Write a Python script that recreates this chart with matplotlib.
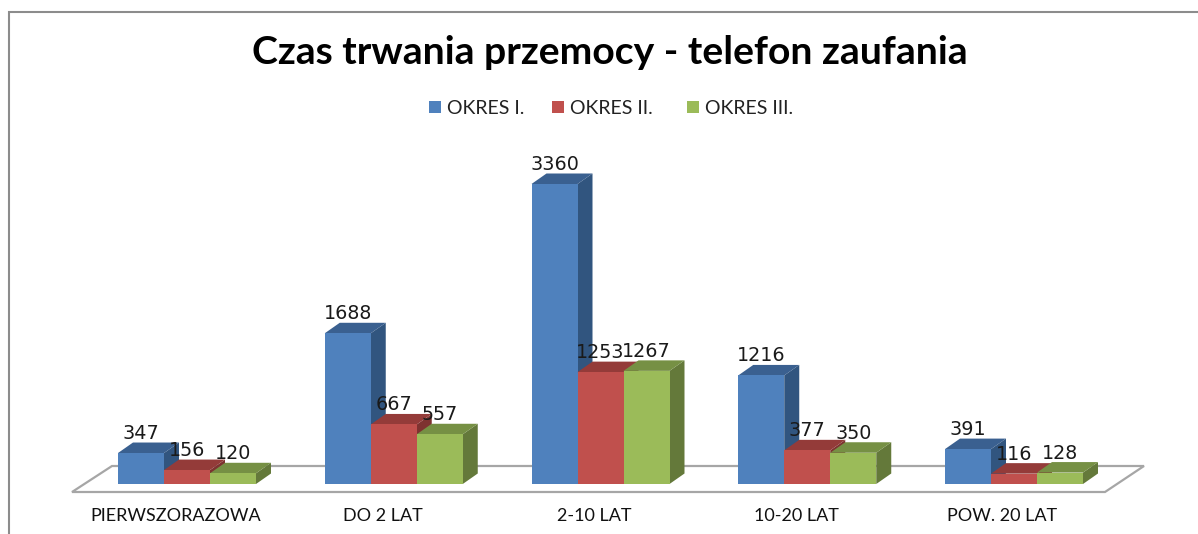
import matplotlib
matplotlib.use("Agg")
import matplotlib.pyplot as plt
from matplotlib.patches import Polygon, Rectangle

W, H = 1198, 534
categories = ["PIERWSZORAZOWA", "DO 2 LAT", "2-10 LAT", "10-20 LAT", "POW. 20 LAT"]
series_names = ["OKRES I.", "OKRES II.", "OKRES III."]
okres1 = [347, 1688, 3360, 1216, 391]
okres2 = [156, 667, 1253, 377, 116]
okres3 = [120, 557, 1267, 350, 128]
title = "Czas trwania przemocy - telefon zaufania"

front = ["#4F81BD", "#C0504D", "#9BBB59"]
top = ["#3A6090", "#943B39", "#769044"]
side = ["#31557F", "#7E3230", "#64793A"]

fig = plt.figure(figsize=(W / 100, H / 100), dpi=100, facecolor="white")

# frame and overlay in pixels
ov = fig.add_axes([0, 0, 1, 1], zorder=0)
ov.set_xlim(0, W); ov.set_ylim(H, 0); ov.axis("off")
ov.plot([9, 9, 1198], [534, 12, 12], color="#8C8C8C", lw=1.5, solid_joinstyle="miter")

# Data axes: x in category units, y in values
PX_X = 206.75
PX_Y = 300 / 3360
x0_px, y0_px = 187, 484
xmin = -x0_px / PX_X
xmax = (W - x0_px) / PX_X
ymin = -(H - y0_px) / PX_Y
ymax = y0_px / PX_Y
ax = fig.add_axes([0, 0, 1, 1], zorder=1)
ax.set_xlim(xmin, xmax); ax.set_ylim(ymin, ymax); ax.axis("off")
ax.patch.set_alpha(0)

bw = 46 / PX_X
dx = 15 / PX_X
dy = 10.5 / PX_Y

# floor
fx = [(72 - x0_px) / PX_X, (1105 - x0_px) / PX_X, (1144 - x0_px) / PX_X, (112 - x0_px) / PX_X]
fy = [-8 / PX_Y, -8 / PX_Y, 18 / PX_Y, 18 / PX_Y]
ax.add_patch(Polygon(list(zip(fx, fy)), closed=True, fc="white", ec="#A6A6A6", lw=1.6, zorder=1))

label_dx = [-11, -11, -6, -11, -12]
all_series = [okres1, okres2, okres3]
for i in range(len(categories)):
    for s in (2, 1, 0):
        v = all_series[s][i]
        l = i + (s - 1.5) * bw
        r = l + bw
        z = 5 + s
        ax.add_patch(Polygon([(r, 0), (r + dx, dy), (r + dx, v + dy), (r, v)], fc=side[s], ec="none", zorder=z))
        ax.add_patch(Polygon([(l, v), (l + dx, v + dy), (r + dx, v + dy), (r, v)], fc=top[s], ec="none", zorder=z))
        ax.add_patch(Rectangle((l, 0), bw, v, fc=front[s], ec="none", zorder=z + 0.1))
        ax.text(l + bw / 2, v + 19.5 / PX_Y, str(v), ha="center", va="center",
                fontsize=13.8, family="DejaVu Sans", color="#1a1a1a", zorder=20)
    ax.text(i + label_dx[i] / PX_X, -32 / PX_Y, categories[i], ha="center", va="center",
            fontsize=13, family="Lato", color="#111111", zorder=20)

# title
ov.text(609.5, 52, title, ha="center", va="center", fontsize=28.2, fontweight="bold",
        family="Lato", color="black")

# legend
for x_sq, x_t, name, c in zip([429, 552, 687], [447, 570, 705], series_names, front):
    ov.add_patch(Rectangle((x_sq, 100.5), 12, 12, fc=c, ec="none"))
    ov.text(x_t, 108, name, ha="left", va="center", fontsize=14, family="Lato", color="#222222")

fig.savefig("out.png", dpi=100, facecolor="white")
